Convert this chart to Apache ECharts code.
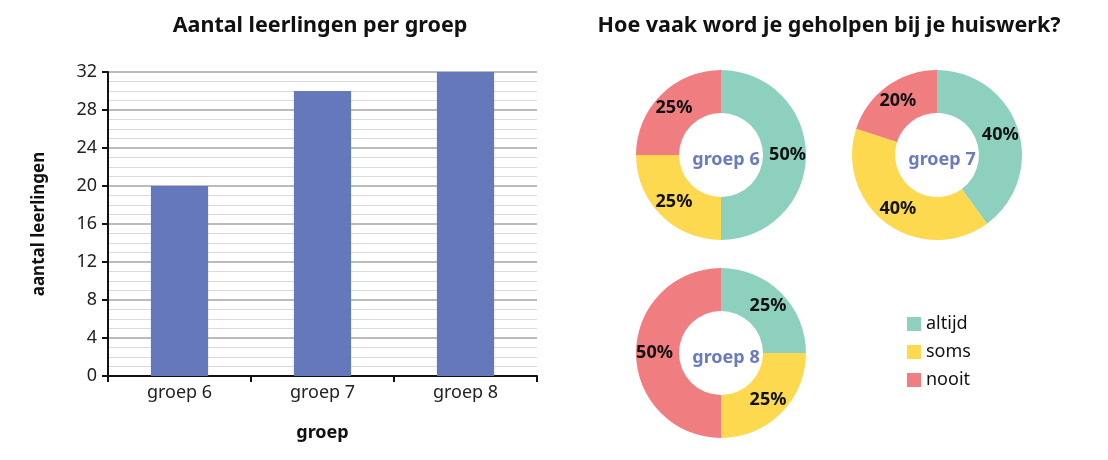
<!DOCTYPE html>
<html><head><meta charset="utf-8">
<script src="https://cdn.jsdelivr.net/npm/echarts@6/dist/echarts.min.js"></script>
<style>html,body{margin:0;padding:0;background:#fff}#c{width:1108px;height:460px}</style>
</head><body><div id="c"></div>
<script>
const groups = ['groep 6', 'groep 7', 'groep 8'];
const pupils = [20, 30, 32];
const answers = ['altijd', 'soms', 'nooit'];
const help6 = [50, 25, 25];
const help7 = [40, 40, 20];
const help8 = [25, 25, 50];
const yTicks = [0, 32, 4];

const FONT = 'Noto Sans';
const colors = ['#8dd0bd', '#fcd94f', '#f07d80'];
const centers = [[721, 155], [937, 155], [721, 353]];
const helpData = [help6, help7, help8];

const chart = echarts.init(document.getElementById('c'));
const pieSeries = helpData.map((vals, i) => ({
  type: 'pie',
  center: centers[i],
  radius: [42, 85],
  startAngle: 90,
  clockwise: true,
  silent: true,
  animation: false,
  label: { show: true, position: 'inside', formatter: '{c}%', color: '#111', fontWeight: 'bold', fontSize: 18, fontFamily: FONT },
  labelLine: { show: false },
  itemStyle: { borderWidth: 0 },
  data: answers.map((a, j) => ({ name: a, value: vals[j], itemStyle: { color: colors[j] } }))
}));

const centerTitles = groups.map((g, i) => ({
  text: g, left: centers[i][0], top: centers[i][1], textAlign: 'center', textVerticalAlign: 'middle',
  textStyle: { color: '#6a7bbe', fontSize: 18, fontWeight: 'bold', fontFamily: FONT }
}));

chart.setOption({
  animation: false,
  textStyle: { fontFamily: FONT },
  title: [
    { text: 'Aantal leerlingen per groep', left: 315, top: 10, textAlign: 'center', textStyle: { fontSize: 21.5, fontWeight: 'bold', color: '#111', fontFamily: FONT } },
    { text: 'Hoe vaak word je geholpen bij je huiswerk?', left: 824, top: 10, textAlign: 'center', textStyle: { fontSize: 21.5, fontWeight: 'bold', color: '#111', fontFamily: FONT } },
    ...centerTitles
  ],
  legend: {
    data: answers, orient: 'vertical', left: 902, top: 310, itemGap: 10,
    icon: 'rect', itemWidth: 14, itemHeight: 14,
    textStyle: { fontSize: 18, color: '#111', fontFamily: FONT }, selectedMode: false
  },
  grid: { left: 108, top: 72, right: 571, bottom: 84, containLabel: false },
  xAxis: {
    type: 'category', data: groups,
    name: 'groep', nameLocation: 'middle', nameGap: 48,
    nameTextStyle: { fontSize: 18, fontWeight: 'bold', color: '#111' },
    axisLine: { lineStyle: { color: '#111', width: 2 } },
    axisTick: { show: true, length: 6, lineStyle: { color: '#111', width: 2 } },
    axisLabel: { fontSize: 18, color: '#222', margin: 8 }
  },
  yAxis: {
    type: 'value', min: yTicks[0], max: yTicks[1], interval: yTicks[2],
    name: 'aantal leerlingen', nameLocation: 'middle', nameGap: 60, nameRotate: 90,
    nameTextStyle: { fontSize: 17, fontWeight: 'bold', color: '#111' },
    axisLine: { show: true, lineStyle: { color: '#111', width: 2 } },
    axisTick: { show: true, length: 6, lineStyle: { color: '#111', width: 2 } },
    axisLabel: { fontSize: 18, color: '#222', margin: 11 },
    splitLine: { lineStyle: { color: '#a5a5a5', width: 1.5 } },
    minorTick: { show: false, splitNumber: 4 },
    minorSplitLine: { show: true, lineStyle: { color: '#dadada', width: 1 } }
  },
  series: [
    { type: 'bar', data: pupils, barWidth: '40%', itemStyle: { color: '#6478bb' }, z: 3 },
    ...pieSeries
  ]
});
</script></body></html>
